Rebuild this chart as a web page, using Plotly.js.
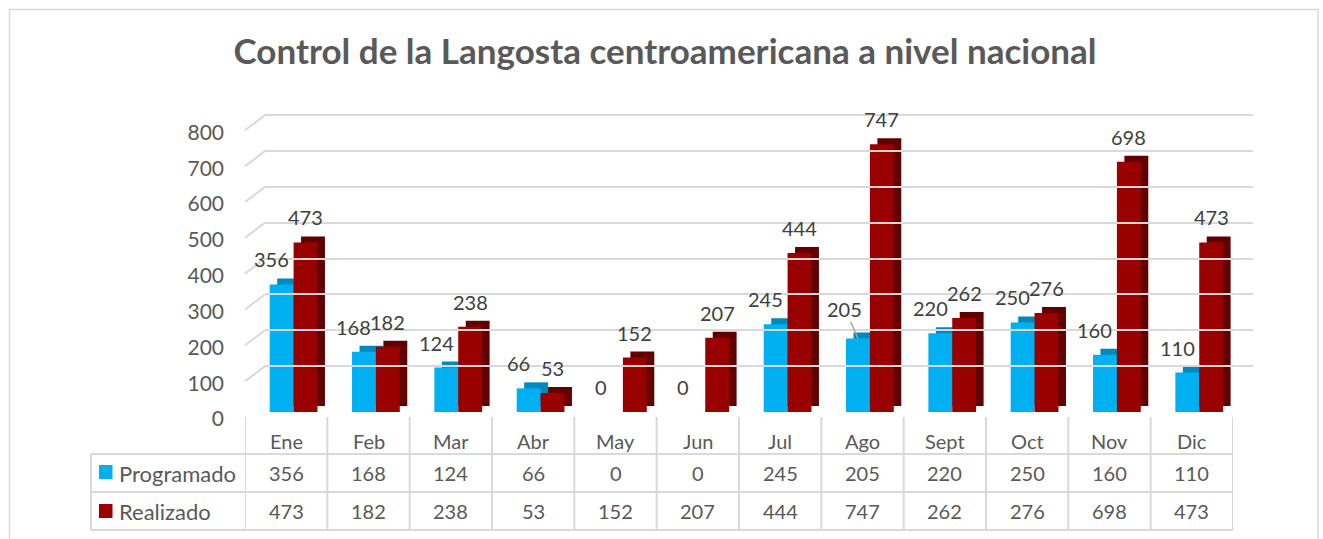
<!DOCTYPE html>
<html>
<head>
<meta charset="utf-8">
<script src="https://cdn.plot.ly/plotly-3.0.1.min.js"></script>
<style>html,body{margin:0;padding:0;background:#fff}#chart{width:1323px;height:539px}</style>
</head>
<body>
<div id="chart"></div>
<script>
const months = ['Ene','Feb','Mar','Abr','May','Jun','Jul','Ago','Sept','Oct','Nov','Dic'];
const programado = [356,168,124,66,0,0,245,205,220,250,160,110];
const realizado = [473,182,238,53,152,207,444,747,262,276,698,473];
const seriesNames = ['Programado','Realizado'];
const yTicks = [0,100,200,300,400,500,600,700,800];
const titleText = 'Control de la Langosta centroamericana a nivel nacional';

const W = 1323, H = 539;
const px = x => x / W;
const py = y => 1 - y / H;
const FONT = 'Lato, "Open Sans", sans-serif';
const BLUE = '#00B0F0', BLUE_D = '#0089BE', RED = '#990000', RED_D = '#620000';
const GRID = '#D9D9D9';
const idx = months.map((m, i) => i);

const BW = 0.29, OFF_B = -0.2, OFF_R = 0.09, DX = 0.091, DY = 16.7;
const PXU = 286.7 / 800;   // pixels per unit on the value scale
const GRID_TOP = 850;      // back-wall axis extends a bit above the last grid line

function bar(vals, off, color, base) {
  const t = {type:'bar', x: idx, y: vals, width: BW, offset: off,
    marker:{color: color, line:{width:0}}, hoverinfo:'skip', showlegend:false, cliponaxis:false};
  if (base !== undefined) t.base = base;
  return t;
}

const traces = [
  {type:'scatter', x:[], y:[], xaxis:'x2', yaxis:'y2', showlegend:false, hoverinfo:'skip'},
  bar(programado, OFF_B + DX, BLUE_D, DY),
  bar(programado, OFF_B, BLUE),
  bar(realizado, OFF_R + DX, RED_D, DY),
  bar(realizado, OFF_R, RED)
];

const annotations = [];
const labFont = {family: FONT, size: 20, color: '#404040'};
programado.forEach((v, i) => {
  const a = {x: i + OFF_B + BW/2, y: v, xref:'x', yref:'y', text: String(v), font: labFont,
    showarrow:false, yshift:25, xshift:-10, yanchor:'middle', xanchor:'center'};
  if (months[i] === 'Ago') {
    Object.assign(a, {showarrow:true, arrowhead:0, arrowwidth:1.5, arrowcolor:'#A6A6A6',
      ax:-13, ay:-30, standoff:0, xshift:0, yshift:0});
  }
  annotations.push(a);
});
realizado.forEach((v, i) => {
  annotations.push({x: i + OFF_R + BW/2, y: v, xref:'x', yref:'y', text: String(v), font: labFont,
    showarrow:false, yshift:25, yanchor:'middle', xanchor:'center'});
});

// data table
const tFont = {family: FONT, size: 20, color: '#595959'};
months.forEach((m, i) => {
  annotations.push({x: i, y: py(441), xref:'x', yref:'paper', text: m, font: tFont, showarrow:false, yanchor:'middle', xanchor:'center'});
  annotations.push({x: i, y: py(473), xref:'x', yref:'paper', text: String(programado[i]), font: tFont, showarrow:false, yanchor:'middle', xanchor:'center'});
  annotations.push({x: i, y: py(511), xref:'x', yref:'paper', text: String(realizado[i]), font: tFont, showarrow:false, yanchor:'middle', xanchor:'center'});
});
seriesNames.forEach((s, k) => {
  annotations.push({x: px(117), y: py(k === 0 ? 473 : 511), xref:'paper', yref:'paper', xanchor:'left', yanchor:'middle',
    text: s, font: {family: FONT, size: 22, color: '#595959'}, showarrow:false});
});

const shapes = [];
// frame
shapes.push({type:'rect', xref:'paper', yref:'paper', x0: px(9.5), x1: px(1318), y0: py(560), y1: py(9.5),
  line:{color: GRID, width:1.5}, layer:'below'});
// 3D perspective diagonals on left wall
yTicks.forEach(v => {
  shapes.push({type:'line', xref:'paper', yref:'y2', xsizemode:'pixel', xanchor: px(265), x0:-20, x1:0,
    ysizemode:'pixel', yanchor: v, y0:-15, y1:0, line:{color: GRID, width:2}, layer:'below'});
});
// table lines
[454, 492, 530].forEach(y => {
  shapes.push({type:'line', xref:'paper', yref:'paper', x0: px(91), x1: px(1233), y0: py(y), y1: py(y),
    line:{color: GRID, width:2}});
});
shapes.push({type:'line', xref:'paper', yref:'paper', x0: px(91), x1: px(91), y0: py(454), y1: py(530),
  line:{color: GRID, width:2}});
for (let i = 0; i <= months.length; i++) {
  shapes.push({type:'line', xref:'x', yref:'paper', x0: i - 0.5, x1: i - 0.5, y0: py(417), y1: py(530),
    line:{color: GRID, width:2}});
}
// legend keys
[[465, 479, BLUE], [504, 518, RED]].forEach(([a, b, c]) => {
  shapes.push({type:'rect', xref:'paper', yref:'paper', x0: px(99), x1: px(112.5), y0: py(b), y1: py(a),
    fillcolor: c, line:{width:0}});
});

const layout = {
  width: W, height: H,
  margin:{l:0, r:0, t:0, b:0},
  paper_bgcolor:'#fff', plot_bgcolor:'rgba(0,0,0,0)',
  barmode:'overlay',
  showlegend:false,
  title:{text: titleText, x: px(665), xanchor:'center', xref:'paper', y: py(52), yanchor:'middle', yref:'paper',
    font:{family: FONT, size: 35, color:'#595959', weight: 'bold'}},
  xaxis:{domain:[px(245), px(1233)], range:[-0.5, 11.5], visible:false, fixedrange:true},
  yaxis:{domain:[py(412), py(412 - 800 * PXU)], range:[0, 800], visible:false, fixedrange:true},
  xaxis2:{domain:[px(265), px(1253)], range:[0, 1], anchor:'y2', showgrid:false, zeroline:false,
    showline:false, showticklabels:false, ticks:'', fixedrange:true},
  yaxis2:{domain:[py(402), py(402 - GRID_TOP * PXU)], range:[0, GRID_TOP], anchor:'x2', tickvals: yTicks,
    showgrid:true, gridcolor: GRID, gridwidth:2, zeroline:false, showline:false, ticks:'',
    ticklabelshift:17, ticklabelstandoff:40,
    tickfont:{family: FONT, size: 21, color:'#595959'}, fixedrange:true, layer:'below traces'},
  annotations: annotations,
  shapes: shapes,
  font:{family: FONT}
};

Plotly.newPlot('chart', traces, layout, {displayModeBar:false, staticPlot:true});
</script>
</body>
</html>
